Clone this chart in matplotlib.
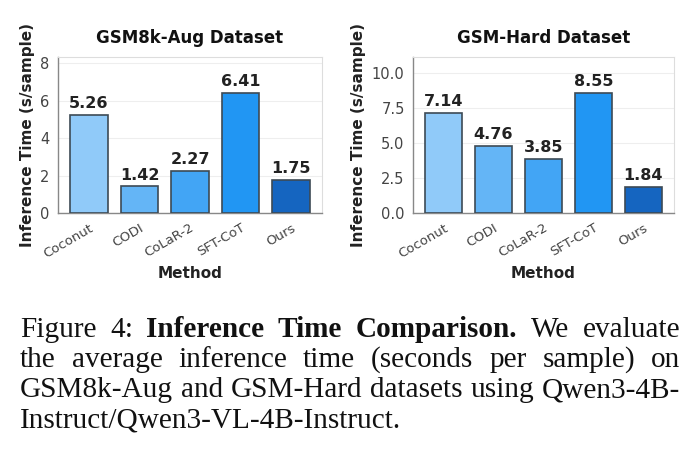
import matplotlib
matplotlib.use("Agg")
import matplotlib.pyplot as plt
import seaborn as sns

methods = ["Coconut", "CODI", "CoLaR-2", "SFT-CoT", "Ours"]
gsm8k_aug = [5.26, 1.42, 2.27, 6.41, 1.75]
gsm_hard = [7.14, 4.76, 3.85, 8.55, 1.84]
bar_colors = ["#90CAF9", "#64B5F6", "#42A5F5", "#2196F3", "#1565C0"]

caption_lines = [
    [("Figure", False), ("4:", False), ("Inference", True), ("Time", True),
     ("Comparison.", True), ("We", False), ("evaluate", False)],
    [("the", False), ("average", False), ("inference", False), ("time", False),
     ("(seconds", False), ("per", False), ("sample)", False), ("on", False)],
    [("GSM8k-Aug", False), ("and", False), ("GSM-Hard", False), ("datasets", False),
     ("using", False), ("Qwen3-4B-", False)],
    [("Instruct/Qwen3-VL-4B-Instruct.", False)],
]

sns.set_style("whitegrid")
plt.rcParams["font.family"] = ["DejaVu Sans"]

W, H = 696, 465
fig = plt.figure(figsize=(W / 100, H / 100), dpi=100)


def draw_panel(rect, values, title, ymax, yticks):
    ax = fig.add_axes(rect)
    ax.set_facecolor("white")
    x = range(len(methods))
    bars = ax.bar(x, values, width=0.75, color=bar_colors,
                  edgecolor="#3d4a55", linewidth=1.2, zorder=3)
    for b, v in zip(bars, values):
        ax.text(b.get_x() + b.get_width() / 2, v + ymax * 0.025, f"{v:.2f}",
                ha="center", va="bottom", fontsize=11.5, fontweight="bold",
                color="#222222", zorder=4)
    ax.set_ylim(0, ymax)
    ax.set_yticks(yticks)
    ax.set_xticks(list(x))
    ax.set_xticklabels(methods, rotation=30, ha="right", rotation_mode="anchor")
    ax.tick_params(axis="both", colors="#444444", labelsize=10.5, length=3,
                   width=0.8, direction="out", pad=3)
    ax.tick_params(axis="x", labelsize=9.5)
    ax.grid(axis="y", color="#eeeeee", linewidth=0.8, zorder=0)
    ax.grid(axis="x", visible=False)
    for s in ["top", "right"]:
        ax.spines[s].set_color("#dddddd")
        ax.spines[s].set_linewidth(0.8)
    for s in ["left", "bottom"]:
        ax.spines[s].set_color("#888888")
        ax.spines[s].set_linewidth(1.0)
    ax.set_title(title, fontsize=12, fontweight="bold", color="#111111", pad=10)
    ax.set_xlabel("Method", fontsize=11, fontweight="bold", color="#222222",
                  labelpad=4)
    ax.set_ylabel("Inference Time (s/sample)", fontsize=11, fontweight="bold",
                  color="#222222", labelpad=4)
    return ax


draw_panel([58 / W, 1 - 213 / H, 264 / W, 156 / H], gsm8k_aug,
           "GSM8k-Aug Dataset", max(gsm8k_aug) * 1.3, [0, 2, 4, 6, 8])
draw_panel([413 / W, 1 - 213 / H, 261 / W, 156 / H], gsm_hard,
           "GSM-Hard Dataset", max(gsm_hard) * 1.3, [0, 2.5, 5, 7.5, 10])

# caption, justified
fig.canvas.draw()
renderer = fig.canvas.get_renderer()
cap_font = dict(family="Liberation Serif", fontsize=21.1, color="#111111")
left_px, right_px = 20, 680
y0, dy = 337, 30


def word_width(word, bold):
    t = fig.text(0, 0, word, fontweight="bold" if bold else "normal", **cap_font)
    w = t.get_window_extent(renderer).width
    t.remove()
    return w


space = word_width("a b", False) - word_width("ab", False)
for i, line in enumerate(caption_lines):
    widths = [word_width(w, b) for w, b in line]
    y = 1 - (y0 + i * dy) / H
    if i < len(caption_lines) - 1 and len(line) > 1:
        gap = (right_px - left_px - sum(widths)) / (len(line) - 1)
    else:
        gap = space
    xpos = left_px
    for (w, b), wd in zip(line, widths):
        fig.text(xpos / W, y, w, fontweight="bold" if b else "normal",
                 ha="left", va="baseline", **cap_font)
        xpos += wd + gap

fig.savefig("out.png", dpi=100)
